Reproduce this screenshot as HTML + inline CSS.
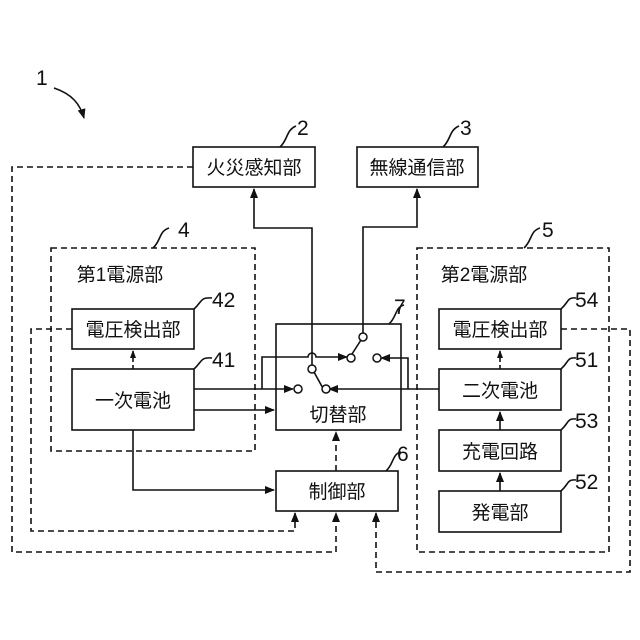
<!DOCTYPE html>
<html><head><meta charset="utf-8"><style>
html,body{margin:0;padding:0;background:#fff}
svg{display:block}
text{font-family:"Liberation Sans","Noto Sans CJK JP",sans-serif;fill:#111}
</style></head><body>
<svg width="640" height="640" viewBox="0 0 640 640" xmlns="http://www.w3.org/2000/svg">
<defs>
<marker id="a" markerWidth="10" markerHeight="8" refX="9" refY="4" orient="auto" markerUnits="userSpaceOnUse"><path d="M0,0 L10,4 L0,8 z" fill="#111"/></marker>
<marker id="s" markerWidth="8" markerHeight="6" refX="7" refY="3" orient="auto" markerUnits="userSpaceOnUse"><path d="M0,0 L8,3 L0,6 z" fill="#111"/></marker>
</defs>
<g fill="none" stroke="#111" stroke-width="1.6">
<rect x="51" y="248" width="204" height="203" stroke-dasharray="6,4"/>
<rect x="417" y="248" width="192" height="304" stroke-dasharray="6,4"/>
<rect x="193" y="147" width="122" height="40"/>
<rect x="357" y="147" width="121" height="40"/>
<rect x="72" y="309" width="122" height="40"/>
<rect x="72" y="369" width="122" height="61"/>
<rect x="276" y="324" width="125" height="106"/>
<rect x="276" y="471" width="122" height="40"/>
<rect x="439" y="309" width="122" height="40"/>
<rect x="439" y="369" width="122" height="41"/>
<rect x="439" y="430" width="122" height="41"/>
<rect x="439" y="491" width="122" height="41"/>
<path d="M193,167 H12 V552 H336 V513" stroke-dasharray="6,4" marker-end="url(#a)"/>
<path d="M72,329 H31 V531 H295 V513" stroke-dasharray="6,4" marker-end="url(#a)"/>
<path d="M561,329 H630 V572 H376 V513" stroke-dasharray="6,4" marker-end="url(#a)"/>
<path d="M336,471 V432" stroke-dasharray="6,4" marker-end="url(#a)"/>
<path d="M133,369 V351" stroke-dasharray="4,3" marker-end="url(#s)"/>
<path d="M500,369 V351" stroke-dasharray="4,3" marker-end="url(#s)"/>
<path d="M500,430 V412" marker-end="url(#a)"/>
<path d="M500,491 V473" marker-end="url(#a)"/>
<path d="M133,430 V490 H274" marker-end="url(#a)"/>
<path d="M194,410 H274" marker-end="url(#a)"/>
<path d="M194,389 H293" marker-end="url(#a)"/>
<path d="M262,389 V357 H308 a4,4 0 0 1 8,0 H347" marker-end="url(#a)"/>
<path d="M439,389 H329" marker-end="url(#a)"/>
<path d="M408,389 V358 H381" marker-end="url(#a)"/>
<path d="M312,366 V228 H254 V189" marker-end="url(#a)"/>
<path d="M363,334 V227 H417 V189" marker-end="url(#a)"/>
<path d="M314,372 L325,392"/>
<path d="M361,340 L352,354"/>
<path d="M54,88 C72,94 80,104 84,118" marker-end="url(#a)"/>
<path d="M280,147 C288,140 286,130 296,126"/>
<path d="M443,147 C451,140 449,130 459,126"/>
<path d="M153,248 C161,241 159,231 169,228"/>
<path d="M524,248 C532,241 530,231 540,228"/>
<path d="M194,309 C202,302 200,297 212,298"/>
<path d="M194,369 C202,362 200,357 212,358"/>
<path d="M389,324 C397,317 395,307 404,305"/>
<path d="M386,471 C394,464 392,454 401,452"/>
<path d="M561,309 C569,302 567,297 576,298"/>
<path d="M561,369 C569,362 567,357 576,358"/>
<path d="M561,430 C569,423 567,418 576,419"/>
<path d="M561,491 C569,484 567,479 576,480"/>
</g>
<g fill="#fff" stroke="#111" stroke-width="1.5">
<circle cx="298" cy="389" r="4"/>
<circle cx="312" cy="369" r="4"/>
<circle cx="326" cy="389" r="4"/>
<circle cx="351" cy="358" r="4"/>
<circle cx="363" cy="337" r="4"/>
<circle cx="377" cy="358" r="4"/>
</g>
<g font-size="19" text-anchor="middle">
<text x="254" y="174">火災感知部</text>
<text x="417" y="174">無線通信部</text>
<text x="133" y="336">電圧検出部</text>
<text x="133" y="407">一次電池</text>
<text x="338" y="421">切替部</text>
<text x="337" y="498">制御部</text>
<text x="500" y="336">電圧検出部</text>
<text x="500" y="397">二次電池</text>
<text x="500" y="458">充電回路</text>
<text x="500" y="519">発電部</text>
<text x="120" y="281">第1電源部</text>
<text x="484" y="281">第2電源部</text>
</g>
<g font-size="21">
<text x="36" y="85">1</text>
<text x="297" y="135">2</text>
<text x="460" y="135">3</text>
<text x="178" y="237">4</text>
<text x="542" y="237">5</text>
<text x="212" y="307">42</text>
<text x="212" y="367">41</text>
<text x="394" y="314">7</text>
<text x="397" y="461">6</text>
<text x="575" y="307">54</text>
<text x="575" y="367">51</text>
<text x="575" y="428">53</text>
<text x="575" y="489">52</text>
</g>
</svg>
</body></html>
